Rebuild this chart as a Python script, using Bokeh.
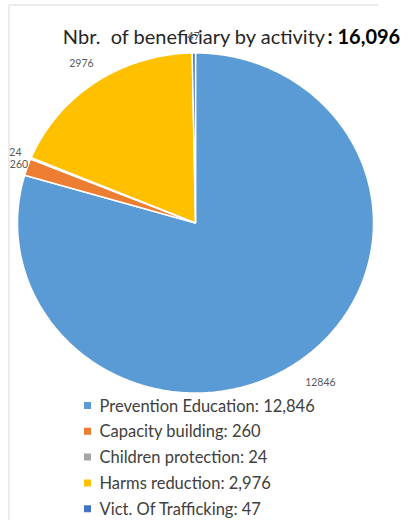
import numpy as np
from bokeh.plotting import figure
from bokeh.models import Range1d, ColumnDataSource
from bokeh.core.properties import value
from bokeh.embed import file_html
from bokeh.resources import INLINE

# ---- data ----
categories = ["Prevention Education", "Capacity building", "Children protection",
              "Harms reduction", "Vict. Of Trafficking"]
values = [12846, 260, 24, 2976, 47]
colors = ["#5B9BD5", "#ED7D31", "#A5A5A5", "#FFC000", "#4472C4"]
title_main = "Nbr.\u00a0\u00a0of beneficiary by activity"
title_total = ": 16,096"

# ---- layout (screen pixel geometry of the page) ----
W, H = 410, 520
OX, OY = 0, 0
CX, CY = 195.0, 222.5    # pie centre in page pixels
RX, RY = 178.0, 170.0    # pie radii in page pixels

def dx(px):
    return (px - CX) / RX

def dy(py):
    return (CY - py) / RY

p = figure(width=W, height=H, output_backend="svg", toolbar_location=None,
           x_range=Range1d(dx(OX), dx(OX + W)), y_range=Range1d(dy(OY + H), dy(OY)),
           min_border=0, outline_line_color=None)
p.xaxis.visible = False
p.yaxis.visible = False
p.xgrid.visible = False
p.ygrid.visible = False
p.background_fill_color = "white"

# chart-area border (partially visible in reference)
p.segment(x0=[dx(8.5)], y0=[dy(4.5)], x1=[dx(8.5)], y1=[dy(520)], line_color="#D9D9D9", line_width=1)
p.segment(x0=[dx(8.5)], y0=[dy(4.5)], x1=[dx(378)], y1=[dy(4.5)], line_color="#D9D9D9", line_width=1)

# ---- pie slices (clockwise from 12 o'clock) ----
vals = np.array(values, dtype=float)
frac = vals / vals.sum()
cum = np.concatenate([[0.0], np.cumsum(frac)])
xs, ys = [], []
for i in range(len(vals)):
    a0 = np.pi / 2 - 2 * np.pi * cum[i]
    a1 = np.pi / 2 - 2 * np.pi * cum[i + 1]
    n = max(4, int(abs(a1 - a0) / (2 * np.pi) * 400))
    t = np.linspace(a0, a1, n)
    xs.append(np.concatenate([[0.0], np.cos(t)]).tolist())
    ys.append(np.concatenate([[0.0], np.sin(t)]).tolist())
p.patches(xs=xs, ys=ys, fill_color=colors, line_color="white", line_width=1.5)

# ---- title ----
p.text(x=[dx(326)], y=[dy(35)], text=[title_main], text_font=value("Lato"),
       text_font_size="20px", text_color="#262626", text_align="right",
       text_baseline="alphabetic")
p.text(x=[dx(327)], y=[dy(35)], text=[title_total], text_font=value("Lato"),
       text_font_size="20px", text_font_style="bold", text_color="#000000",
       text_align="left", text_baseline="alphabetic")

# ---- data labels (outside end) ----
mid = np.pi / 2 - 2 * np.pi * (cum[:-1] + cum[1:]) / 2
rfac = np.array([1.17, 1.05, 1.094, 1.14, 1.10])
lx = (rfac * np.cos(mid)).tolist()
ly = (rfac * np.sin(mid)).tolist()
p.text(x=lx, y=ly, text=[str(v) for v in values], text_font=value("Lato"),
       text_font_size="10.5px", text_color="#595959", text_align="center",
       text_baseline="middle")

# ---- legend ----
row_y = [405 + 25.8 * i for i in range(len(categories))]
leg_labels = [f"{c}: {v:,}" for c, v in zip(categories, values)]
src = ColumnDataSource(dict(x=[dx(87)] * len(categories), y=[dy(r) for r in row_y],
                            tx=[dx(99)] * len(categories), c=colors, t=leg_labels))
p.scatter(x="x", y="y", source=src, marker="square", size=7, fill_color="c", line_color=None)
p.text(x="tx", y="y", text="t", source=src, text_font=value("Lato"), text_font_size="16.5px",
       text_color="#404040", text_align="left", text_baseline="middle")

open("out.html", "w").write(file_html(p, INLINE))
